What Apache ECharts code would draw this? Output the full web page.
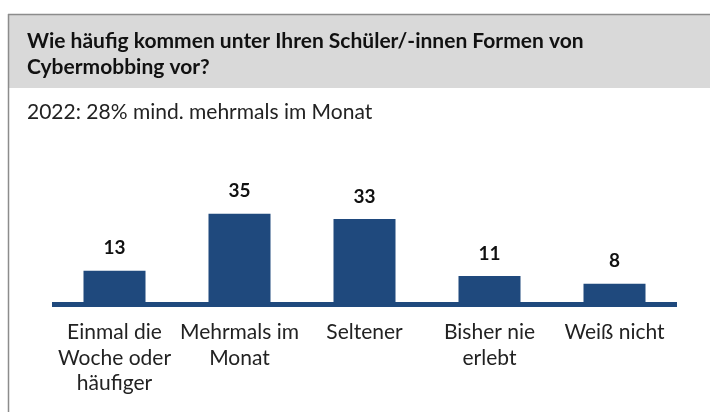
<!DOCTYPE html>
<html>
<head>
<meta charset="utf-8">
<script src="https://cdn.jsdelivr.net/npm/echarts@6/dist/echarts.min.js"></script>
<style>
  html, body { margin: 0; padding: 0; background: #fff; }
  #chart { width: 710px; height: 412px; }
</style>
</head>
<body>
<div id="chart"></div>
<script>
  // data
  var categories = ['Einmal die\nWoche oder\nhäufiger', 'Mehrmals im\nMonat', 'Seltener', 'Bisher nie\nerlebt', 'Weiß nicht']
  var values = [13, 35, 33, 11, 8]
  var titleText = 'Wie häufig kommen unter Ihren Schüler/-innen Formen von\nCybermobbing vor?'
  var subText = '2022: 28% mind. mehrmals im Monat'

  var barColor = '#1F497D'
  var fontFamily = 'Lato, "Open Sans", sans-serif'

  var chart = echarts.init(document.getElementById('chart'))
  chart.setOption({
    backgroundColor: '#fff',
    animation: false,
    graphic: [
      {
        type: 'rect',
        shape: { x: 8, y: 14, width: 702, height: 74 },
        style: { fill: '#d9d9d9' },
        z: -10
      },
      {
        type: 'line',
        shape: { x1: 8, y1: 14.5, x2: 710, y2: 14.5 },
        style: { stroke: '#8c8c8c', lineWidth: 1.5 },
        z: -5
      },
      {
        type: 'line',
        shape: { x1: 8.5, y1: 14, x2: 8.5, y2: 412 },
        style: { stroke: '#8c8c8c', lineWidth: 1.5 },
        z: -5
      }
    ],
    title: [
      {
        text: titleText,
        left: 27,
        top: 28,
        padding: 0,
        textStyle: {
          fontFamily: fontFamily,
          fontSize: 21,
          fontWeight: 'bold',
          color: '#111',
          lineHeight: 26
        }
      },
      {
        text: subText,
        left: 27,
        top: 100,
        padding: 0,
        textStyle: {
          fontFamily: fontFamily,
          fontSize: 21,
          fontWeight: 'normal',
          color: '#222',
          lineHeight: 24
        }
      }
    ],
    grid: {
      left: 52,
      right: 33,
      top: 175,
      bottom: 107.5
    },
    xAxis: {
      type: 'category',
      data: categories,
      axisTick: { show: false },
      axisLine: {
        show: true,
        lineStyle: { color: barColor, width: 5, cap: 'butt' }
      },
      axisLabel: {
        interval: 0,
        margin: 15,
        fontFamily: fontFamily,
        fontSize: 21,
        lineHeight: 25.5,
        color: '#222'
      }
    },
    yAxis: {
      type: 'value',
      min: 0,
      max: 50,
      show: false
    },
    series: [{
      type: 'bar',
      data: values,
      barWidth: 62,
      itemStyle: { color: barColor },
      label: {
        show: true,
        position: 'top',
        distance: 13,
        fontFamily: fontFamily,
        fontSize: 19,
        fontWeight: 'bold',
        color: '#111'
      }
    }]
  })
</script>
</body>
</html>
